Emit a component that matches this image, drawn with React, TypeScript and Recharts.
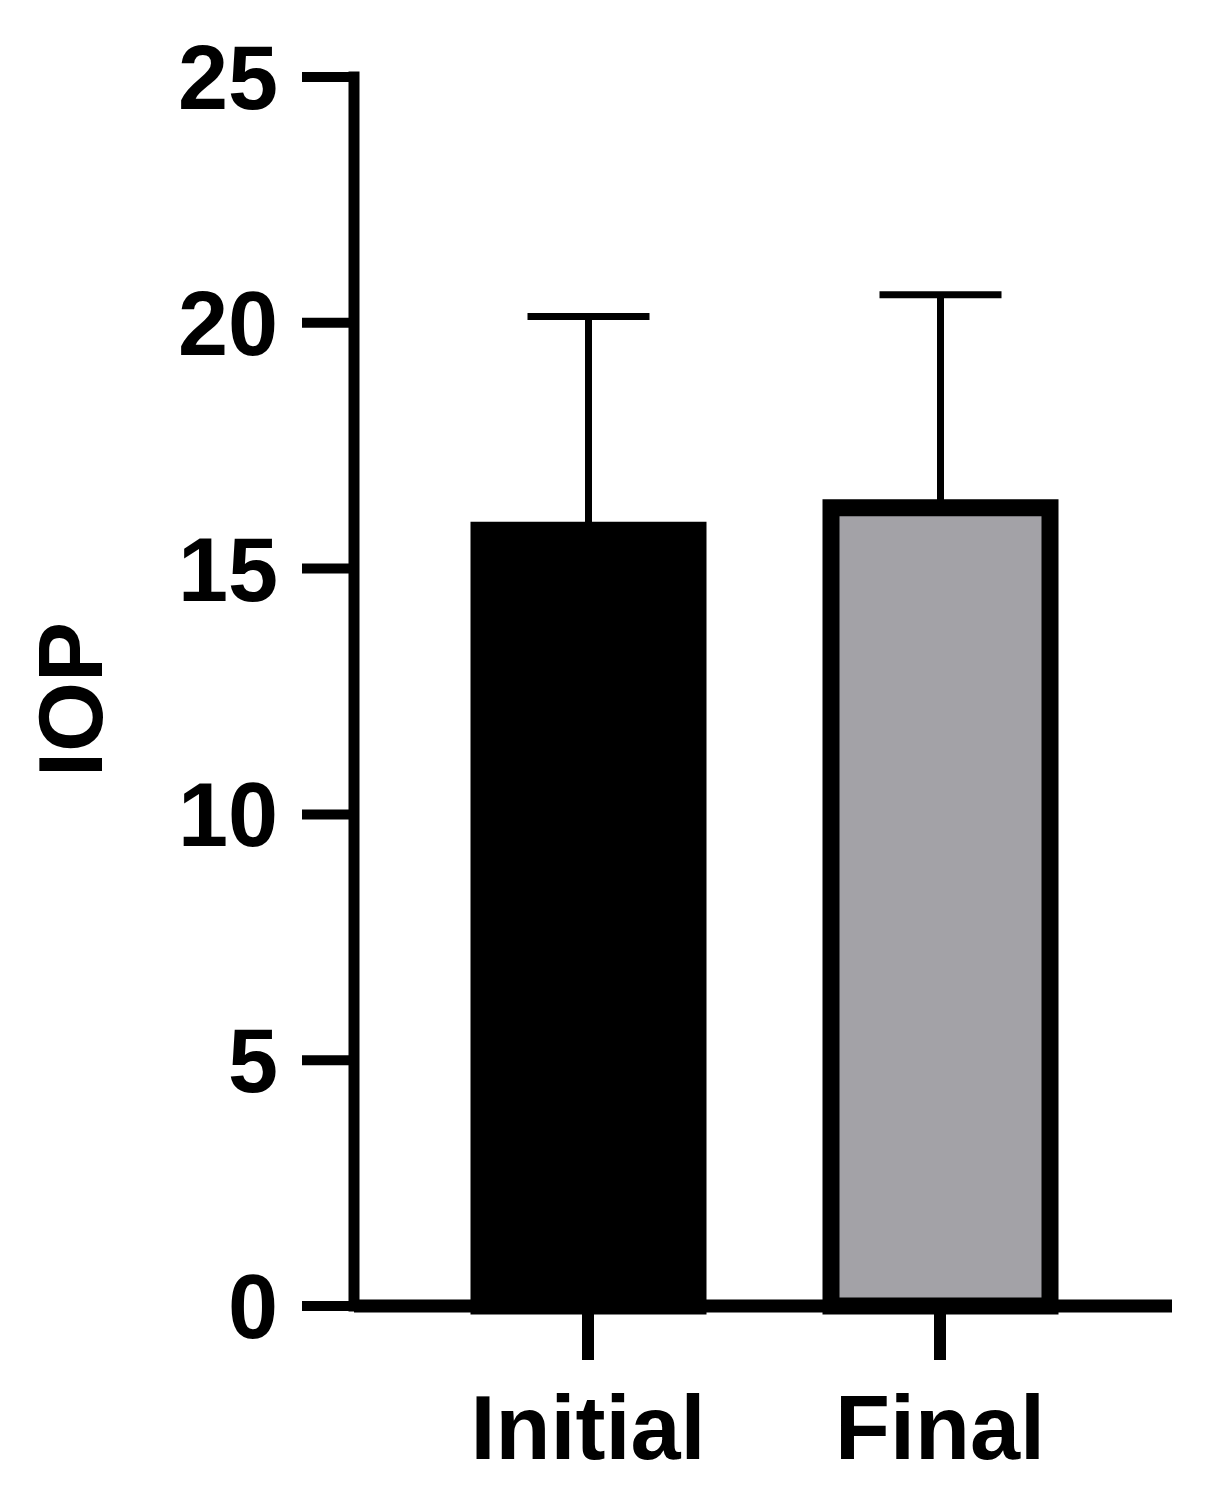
import React from "react";
import { BarChart, Bar, XAxis, YAxis, ErrorBar, Cell } from "recharts";

// IOP before/after, mean + SD
const groups = ["Initial", "Final"];
const meanIop = [15.78, 16.24];
const sdIop = [4.35, 4.33];
const barFills = ["#000000", "#a3a2a7"];
const yTicks = [0, 5, 10, 15, 20, 25];

const data = groups.map((name, i) => ({
  name,
  iop: meanIop[i],
  // only the upper whisker is drawn
  err: [0, sdIop[i]],
}));

const FONT = "'Liberation Sans', Arial, Helvetica, sans-serif";

const tickStyle = {
  fill: "#000",
  fontSize: 90,
  fontWeight: 700,
  fontFamily: FONT,
};

function IopLabel(props: any) {
  const vb = props.viewBox || { x: 0, y: 0, height: 0 };
  const cx = 71;
  const cy = vb.y + vb.height / 2 + 8;
  return (
    <text
      x={cx}
      y={cy}
      transform={`rotate(-90 ${cx} ${cy})`}
      textAnchor="middle"
      dominantBaseline="central"
      fill="#000"
      fontSize={90}
      fontWeight={700}
      fontFamily={FONT}
    >
      IOP
    </text>
  );
}

export default function App() {
  return (
    <div style={{ position: "absolute", left: 0, top: 0, background: "#fff" }}>
      <BarChart
        width={1218}
        height={1508}
        data={data}
        margin={{ top: 77, right: 46, bottom: 0, left: 0 }}
        style={{ fontFamily: FONT }}
      >
        <XAxis
          dataKey="name"
          padding={{ left: 58, right: 56 }}
          axisLine={{ stroke: "#000", strokeWidth: 13 }}
          tickLine={{ stroke: "#000", strokeWidth: 12 }}
          tickSize={54}
          tickMargin={35}
          tick={tickStyle}
          height={202}
        />
        <YAxis
          width={354}
          domain={[0, 25]}
          ticks={yTicks}
          interval={0}
          axisLine={{ stroke: "#000", strokeWidth: 11, strokeLinecap: "square" }}
          tickLine={{ stroke: "#000", strokeWidth: 10 }}
          tickSize={52}
          tickMargin={24}
          tick={tickStyle}
          label={<IopLabel />}
        />
        <Bar
          dataKey="iop"
          barSize={219}
          stroke="#000"
          strokeWidth={17}
          isAnimationActive={false}
        >
          {data.map((d, i) => (
            <Cell key={d.name} fill={barFills[i]} />
          ))}
          <ErrorBar
            dataKey="err"
            direction="y"
            width={61}
            stroke="#000"
            strokeWidth={7}
            isAnimationActive={false}
          />
        </Bar>
      </BarChart>
    </div>
  );
}
